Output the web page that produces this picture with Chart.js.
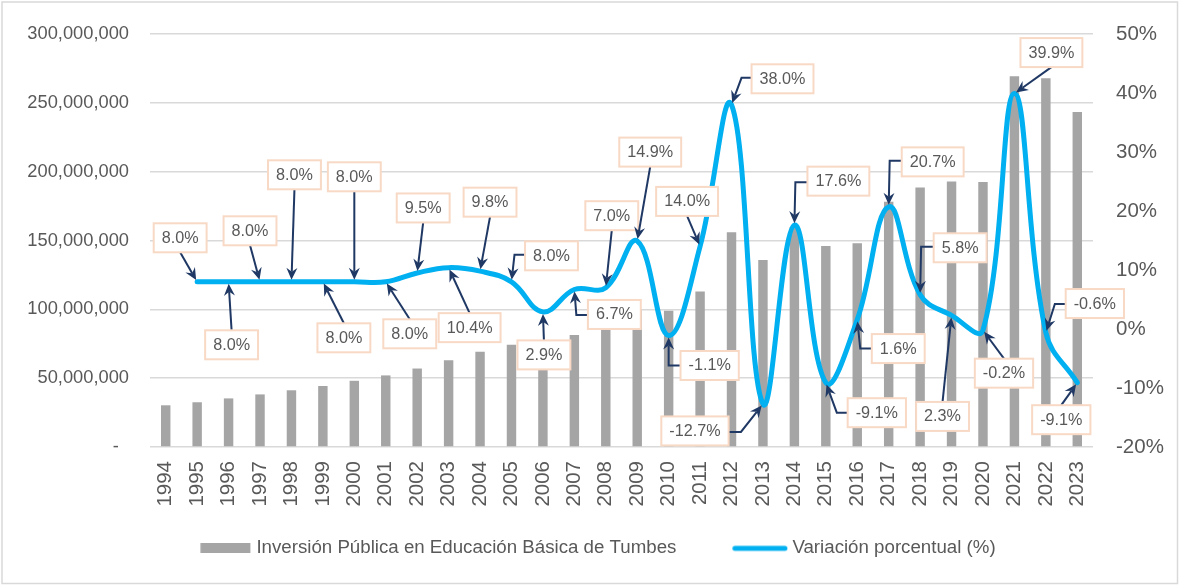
<!DOCTYPE html>
<html>
<head>
<meta charset="utf-8">
<script src="https://cdn.jsdelivr.net/npm/chart.js@4.4.1/dist/chart.umd.min.js"></script>
<style>
  html, body { margin: 0; padding: 0; background: #ffffff; }
  canvas { display: block; }
</style>
</head>
<body>
<canvas id="c" width="1180" height="586"></canvas>
<script>
// ---------------- DATA ----------------
const years = ['1994','1995','1996','1997','1998','1999','2000','2001','2002','2003',
               '2004','2005','2006','2007','2008','2009','2010','2011','2012','2013',
               '2014','2015','2016','2017','2018','2019','2020','2021','2022','2023'];

// Inversión Pública en Educación Básica de Tumbes (soles)
const inversion = [30300000, 32500000, 35300000, 38200000, 41200000, 44300000, 48100000, 52000000, 57000000, 63000000,
                   69100000, 74300000, 76300000, 81400000, 87100000, 100100000, 99000000, 112900000, 156000000, 135900000,
                   159800000, 146000000, 148000000, 178200000, 188500000, 192900000, 192500000, 269300000, 267800000, 243300000];

// Variación porcentual (%)
const variacion = [null, 8.0, 8.0, 8.0, 8.0, 8.0, 8.0, 8.0, 9.5, 10.4,
                   9.8, 8.0, 2.9, 6.7, 7.0, 14.9, -1.1, 14.0, 38.0, -12.7,
                   17.6, -9.1, 1.6, 20.7, 5.8, 2.3, -0.2, 39.9, -0.6, -9.1];

const leftAxisRange = [0, 300000000, 50000000];
const rightAxisRange = [-20, 50, 10];

const seriesNames = ['Inversión Pública en Educación Básica de Tumbes', 'Variación porcentual (%)'];

// ---------------- STYLE ----------------
const FONT = "'Liberation Sans', Arial, sans-serif";
const TXT = '#595959';
const BAR = '#A5A5A5';
const LINE = '#00B0F0';
const ARROW = '#1F3864';
const BOXBORDER = '#F8D9C5';

// callout placement (pixel offsets of box centre from its point; optional elbow knee)
const calloutLayout = [
  null,
  {dx:-17, dy:-44}, {dx:3, dy:63}, {dx:-10, dy:-51}, {dx:3, dy:-107}, {dx:21, dy:56},
  {dx:0, dy:-105}, {dx:24, dy:52}, {dx:6, dy:-65}, {dx:21, dy:60}, {dx:10, dy:-69},
  {dx:40, dy:-26, kx:3, ky:-27}, {dx:1, dy:43}, {dx:40, dy:25, kx:2, ky:25.5},
  {dx:6, dy:-72}, {dx:13, dy:-89}, {dx:41, dy:30, kx:0, ky:30}, {dx:-13, dy:-45},
  {dx:51, dy:-26, kx:10, ky:-27}, {dx:-68, dy:27, kx:-22, ky:28},
  {dx:44, dy:-44, kx:1, ky:-43}, {dx:51, dy:30, kx:11, ky:30}, {dx:41, dy:29, kx:3, ky:29},
  {dx:44, dy:-45, kx:1, ky:-46}, {dx:40, dy:-47, kx:1, ky:-48}, {dx:-9, dy:101},
  {dx:21, dy:43}, {dx:37, dy:-41}, {dx:49, dy:-29, kx:9, ky:-28.5}, {dx:-16, dy:37}
];

// legend swatches
function makeSwatch(w, h, draw) {
  const c = document.createElement('canvas');
  c.width = w; c.height = h;
  draw(c.getContext('2d'));
  return c;
}
const barSwatch = makeSwatch(84, 10, g => { g.fillStyle = BAR; g.fillRect(33.2, 0, 50, 10); });
const lineSwatch = makeSwatch(86, 8, g => {
  g.strokeStyle = LINE; g.lineWidth = 5; g.lineCap = 'round';
  g.beginPath(); g.moveTo(32.7, 4); g.lineTo(82.7, 4); g.stroke();
});

// ---------------- PLUGINS ----------------
const bgPlugin = {
  id: 'bg',
  beforeDraw(chart) {
    const ctx = chart.ctx;
    ctx.save();
    ctx.fillStyle = '#ffffff';
    ctx.fillRect(0, 0, chart.width, chart.height);
    ctx.strokeStyle = '#D9D9D9';
    ctx.lineWidth = 1.5;
    ctx.strokeRect(2, 2, chart.width - 4.5, chart.height - 4.5);
    ctx.restore();
  }
};

function drawArrow(ctx, pts) {
  const n = pts.length;
  const [tx0, ty0] = pts[n - 1];
  const [fx, fy] = pts[n - 2];
  const ang = Math.atan2(ty0 - fy, tx0 - fx);
  const c = Math.cos(ang), s = Math.sin(ang);
  const tx = tx0 - 2 * c, ty = ty0 - 2 * s;
  const L = 12, W = 5.5, N = 8;
  ctx.beginPath();
  ctx.moveTo(pts[0][0], pts[0][1]);
  for (let i = 1; i < n - 1; i++) ctx.lineTo(pts[i][0], pts[i][1]);
  ctx.lineTo(tx - N * c, ty - N * s);
  ctx.stroke();
  ctx.beginPath();
  ctx.moveTo(tx, ty);
  ctx.lineTo(tx - L * c + W * s, ty - L * s - W * c);
  ctx.lineTo(tx - N * c, ty - N * s);
  ctx.lineTo(tx - L * c - W * s, ty - L * s + W * c);
  ctx.closePath();
  ctx.fill();
}

const calloutPlugin = {
  id: 'callouts',
  afterDatasetsDraw(chart) {
    const ctx = chart.ctx;
    const meta = chart.getDatasetMeta(1);
    ctx.save();
    ctx.font = '16.2px ' + FONT;
    ctx.textAlign = 'center';
    ctx.textBaseline = 'middle';
    variacion.forEach((v, i) => {
      const lay = calloutLayout[i];
      if (v === null || !lay) return;
      const el = meta.data[i];
      const px = el.x, py = el.y;
      const text = v.toFixed(1) + '%';
      const tw = ctx.measureText(text).width;
      const bw = tw + 16, bh = 29;
      const cx = px + lay.dx, cy = py + lay.dy;
      let pts;
      if (lay.kx !== undefined) {
        const kx = px + lay.kx, ky = py + lay.ky;
        const sx = kx < cx ? cx - bw / 2 : cx + bw / 2;
        pts = [[sx, ky], [kx, ky], [px, py]];
      } else {
        const sy = py > cy ? cy + bh / 2 : cy - bh / 2;
        pts = [[cx, sy], [px, py]];
      }
      ctx.strokeStyle = ARROW;
      ctx.fillStyle = ARROW;
      ctx.lineWidth = 2;
      drawArrow(ctx, pts);
      ctx.fillStyle = '#ffffff';
      ctx.fillRect(cx - bw / 2, cy - bh / 2, bw, bh);
      ctx.strokeStyle = BOXBORDER;
      ctx.lineWidth = 2;
      ctx.strokeRect(cx - bw / 2, cy - bh / 2, bw, bh);
      ctx.fillStyle = TXT;
      ctx.fillText(text, cx, cy + 0.5);
    });
    ctx.restore();
  }
};

// ---------------- CHART ----------------
new Chart(document.getElementById('c'), {
  type: 'bar',
  data: {
    labels: years,
    datasets: [
      {
        type: 'bar',
        label: seriesNames[0],
        data: inversion,
        backgroundColor: BAR,
        yAxisID: 'y',
        barPercentage: 0.3,
        categoryPercentage: 1.0,
        order: 2
      },
      {
        type: 'line',
        label: seriesNames[1],
        data: variacion,
        borderColor: LINE,
        backgroundColor: LINE,
        borderWidth: 5,
        pointRadius: 0,
        tension: 0.4,
        fill: false,
        borderCapStyle: 'round',
        yAxisID: 'y1',
        order: 1
      }
    ]
  },
  options: {
    responsive: false,
    animation: false,
    devicePixelRatio: 1,
    layout: { padding: { top: 34, bottom: 18.3, left: 0, right: 13 } },
    plugins: {
      tooltip: { enabled: false },
      legend: {
        position: 'bottom',
        align: 'center',
        labels: {
          usePointStyle: true,
          pointStyleWidth: 75.65,
          padding: 31,
          color: TXT,
          font: { family: FONT, size: 18.7 },
          generateLabels: (chart) => chart.data.datasets.map((ds, i) => ({
            text: ds.label,
            pointStyle: i === 0 ? barSwatch : lineSwatch,
            fillStyle: i === 0 ? BAR : LINE,
            strokeStyle: i === 0 ? BAR : LINE,
            lineWidth: 0,
            hidden: false,
            datasetIndex: i,
            fontColor: TXT
          }))
        }
      }
    },
    scales: {
      x: {
        grid: { display: false, drawTicks: false },
        border: { display: false },
        ticks: {
          autoSkip: false,
          minRotation: 90,
          maxRotation: 90,
          padding: 14,
          color: TXT,
          font: { family: FONT, size: 20.5 }
        },
        afterFit: (s) => { s.height = 61; s.paddingLeft = 0; s.paddingRight = 0; }
      },
      y: {
        position: 'left',
        min: leftAxisRange[0],
        max: leftAxisRange[1],
        grid: { color: '#D9D9D9', lineWidth: 1.5, drawTicks: false },
        border: { display: false },
        ticks: {
          stepSize: leftAxisRange[2],
          padding: 21,
          color: TXT,
          font: { family: FONT, size: 18.3 },
          callback: (v) => v === 0 ? '-  ' : Number(v).toLocaleString('en-US')
        },
        afterFit: (s) => { s.width = 150; s.paddingTop = 0; s.paddingBottom = 0; }
      },
      y1: {
        position: 'right',
        min: rightAxisRange[0],
        max: rightAxisRange[1],
        grid: { drawOnChartArea: false, drawTicks: false },
        border: { display: false },
        ticks: {
          stepSize: rightAxisRange[2],
          padding: 23,
          color: TXT,
          font: { family: FONT, size: 20.5 },
          callback: (v) => v + '%'
        },
        afterFit: (s) => { s.width = 74; s.paddingTop = 0; s.paddingBottom = 0; }
      }
    }
  },
  plugins: [bgPlugin, calloutPlugin]
});
</script>
</body>
</html>
